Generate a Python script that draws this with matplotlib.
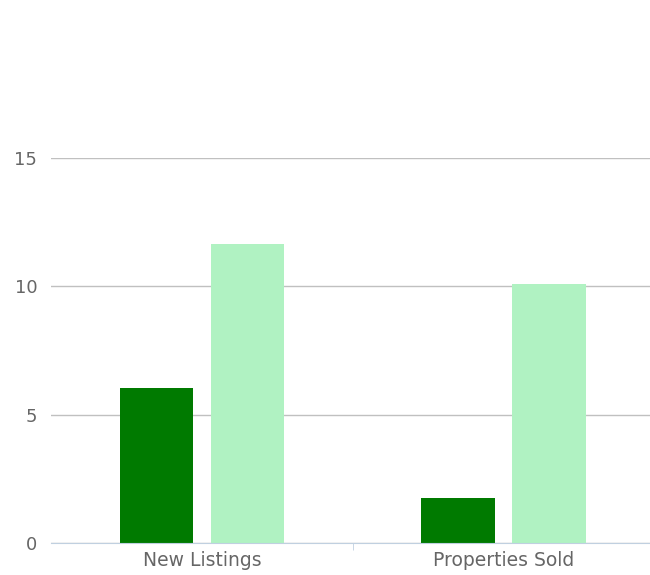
import numpy as np
import matplotlib.pyplot as plt

categories = ['New Listings', 'Properties Sold']
series_a = [6.05, 1.75]
series_b = [11.65, 10.1]
yticks = [0, 5, 10, 15]

fig = plt.figure(figsize=(6.5, 5.75), dpi=100)
ax = fig.add_axes([51.25 / 650, 32 / 575, 603 / 650, 385 / 575])

x = np.arange(len(categories))
w = 0.245
off = 0.151
ax.bar(x - off, series_a, w, color='#007a00', zorder=3)
ax.bar(x + off, series_b, w, color='#b0f2c2', zorder=3)

ax.set_xlim(-0.5, 1.5)
ax.set_ylim(0, 15)
ax.set_yticks(yticks)
ax.set_yticklabels([str(t) for t in yticks])
ax.grid(axis='y', color='#c0c0c0', linewidth=1, zorder=0)

for s in ['top', 'right', 'left']:
    ax.spines[s].set_visible(False)
ax.spines['bottom'].set_color('#c0d0e0')
ax.spines['bottom'].set_zorder(4)

ax.set_xticks(x)
ax.set_xticklabels(categories, color='#666666', fontsize=13.5)
ax.tick_params(axis='x', length=0, pad=6)
ax.set_xticks([0.5], minor=True)
ax.tick_params(axis='x', which='minor', length=5, color='#c0d0e0')
ax.tick_params(axis='y', length=0, pad=10, labelcolor='#666666', labelsize=13)

fig.savefig('out.png', dpi=100)
